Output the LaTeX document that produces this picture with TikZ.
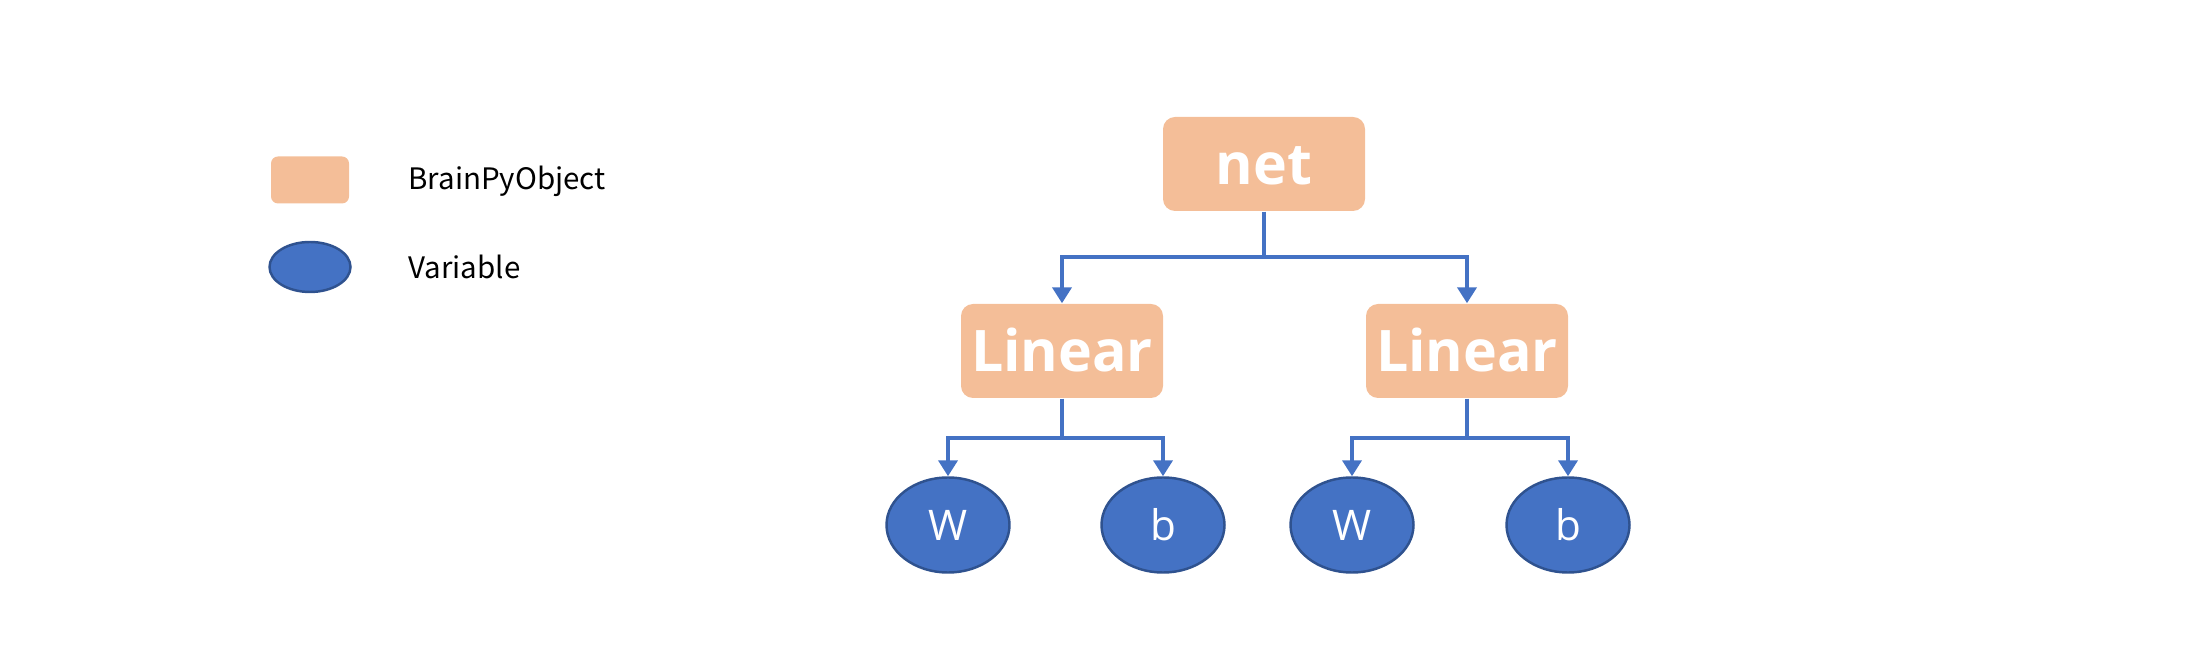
\documentclass[tikz,border=0pt]{standalone}
\usepackage{fontspec}
\setmainfont{Noto Sans CJK SC}
\newfontfamily\boxfont{Open Sans}
\usetikzlibrary{arrows.meta,shapes.geometric}
\definecolor{objfill}{HTML}{F4BE98}
\definecolor{varfill}{HTML}{4472C4}
\definecolor{varline}{HTML}{2F528F}
\begin{document}
\begin{tikzpicture}[
  obj/.style={rectangle, rounded corners=0.12cm, fill=objfill, minimum width=2.02cm, minimum height=0.94cm, inner xsep=2pt, text height=11.6pt, text depth=0pt, text=white, font=\boxfont\bfseries\fontsize{16.3}{16.3}\selectfont},
  var/.style={ellipse, draw=varline, line width=0.7pt, fill=varfill, minimum width=1.23cm, minimum height=0.95cm, text height=8.6pt, text depth=0pt, text=white, font=\boxfont\fontsize{12}{12}\selectfont},
  key/.style={inner sep=0pt, text height=0pt, text depth=0pt},
  conn/.style={draw=varfill, line width=1.1pt, -{Triangle[width=0.19cm,length=0.16cm]}}]
\useasboundingbox (0,0) rectangle (21.97,6.67);
\node[obj, key, minimum width=0.78cm, minimum height=0.47cm, rounded corners=0.07cm] (keyobj) at (3.10,4.87){};
\node[var, key, minimum width=0.81cm, minimum height=0.50cm] (keyvar) at (3.10,4.00){};
\node[anchor=west, font=\fontsize{8.4}{8.4}\selectfont] (keyobjtxt) at (3.96,4.86){BrainPyObject};
\node[anchor=west, font=\fontsize{8.4}{8.4}\selectfont] (keyvartxt) at (3.96,4.00){Variable};
\node[obj] (net) at (12.64,5.03){net};
\node[obj] (lin1) at (10.62,3.16){Linear};
\node[obj] (lin2) at (14.67,3.16){Linear};
\node[var] (w1) at (9.48,1.42){W};
\node[var] (b1) at (11.63,1.42){b};
\node[var] (w2) at (13.52,1.42){W};
\node[var] (b2) at (15.68,1.42){b};
\coordinate (j0) at (12.64,4.10);
\coordinate (j1) at (10.62,2.29);
\coordinate (j2) at (14.67,2.29);
\draw[conn, -] (net) -- (j0);
\draw[conn] (j0) -| (lin1);
\draw[conn] (j0) -| (lin2);
\draw[conn, -] (lin1) -- (j1);
\draw[conn] (j1) -| (w1);
\draw[conn] (j1) -| (b1);
\draw[conn, -] (lin2) -- (j2);
\draw[conn] (j2) -| (w2);
\draw[conn] (j2) -| (b2);
\end{tikzpicture}
\end{document}
